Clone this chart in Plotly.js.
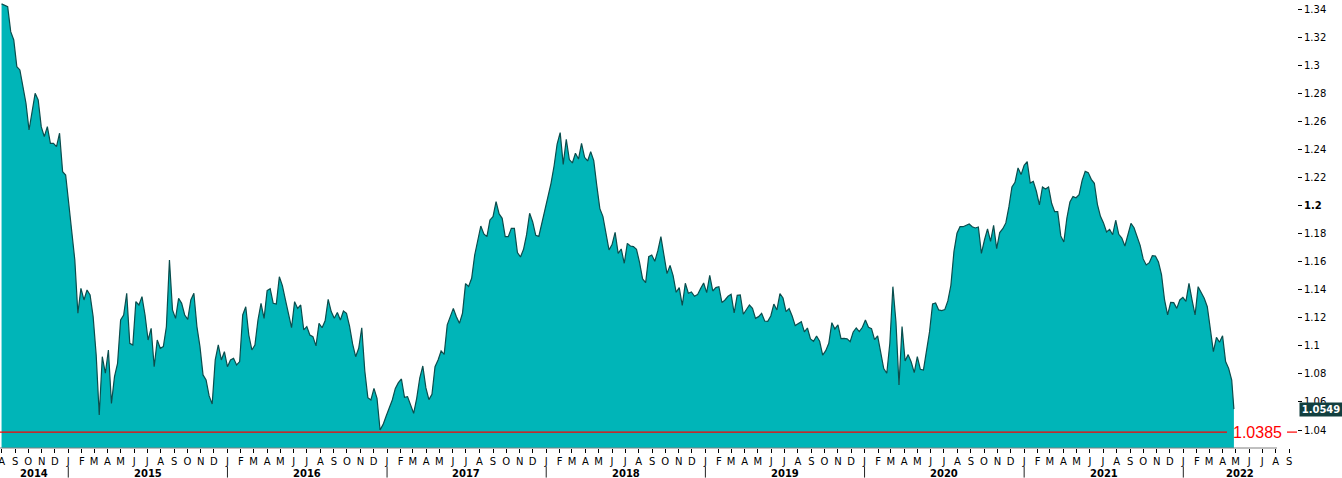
<!DOCTYPE html>
<html><head><meta charset="utf-8">
<script src="https://cdn.plot.ly/plotly-3.0.1.min.js"></script>
<style>html,body{margin:0;padding:0;background:#fff;}#chart{width:1342px;height:478px;}</style>
</head><body><div id="chart"></div>
<script>
// Weekly (Friday) EUR/USD closes, first Friday = 2014-08-01
const firstFriday = '2014-08-01';
const close2014 = [1.3441,1.3434,1.3422,1.3243,1.3184,1.2993,1.2970,1.2851,1.2732,1.2541,1.2684,1.2803,1.2756,1.2565,1.2494,1.2565,1.2446,1.2446,1.2422,1.2518,1.2244,1.2220];
const close2015 = [1.2018,1.1828,1.1613,1.1233,1.1411,1.1328,1.1399,1.1364,1.1209,1.0935,1.0507,1.0923,1.0805,1.0971,1.0590,1.0781,1.0876,1.1185,1.1221,1.1376,1.1019,1.1007,1.1316,1.1292,1.1352,1.1221,1.1042,1.1126,1.0852,1.1042,1.0983,1.0995,1.1138,1.1613,1.1257,1.1197,1.1340,1.1304,1.1221,1.1190,1.1328,1.1376,1.1138,1.0995,1.0793,1.0757,1.0643,1.0586,1.0900,1.1007,1.0900,1.0959];
const close2016 = [1.0852,1.0900,1.0912,1.0864,1.0888,1.1221,1.1280,1.1078,1.0971,1.1007,1.1185,1.1304,1.1197,1.1395,1.1409,1.1304,1.1299,1.1494,1.1430,1.1328,1.1221,1.1130,1.1316,1.1268,1.1292,1.1114,1.1138,1.1078,1.1066,1.1000,1.1161,1.1130,1.1180,1.1333,1.1245,1.1197,1.1238,1.1185,1.1249,1.1233,1.1142,1.1014,1.0923,1.0983,1.1130,1.0821,1.0631,1.0614,1.0697,1.0626,1.0400,1.0440,1.0500];
const close2017 = [1.0559,1.0614,1.0697,1.0738,1.0764,1.0633,1.0638,1.0576,1.0519,1.0626,1.0771,1.0857,1.0702,1.0617,1.0655,1.0852,1.0900,1.0964,1.0940,1.1150,1.1209,1.1268,1.1209,1.1161,1.1233,1.1445,1.1425,1.1483,1.1649,1.1763,1.1856,1.1799,1.1780,1.1899,1.1923,1.2030,1.1942,1.1911,1.1780,1.1780,1.1839,1.1839,1.1666,1.1635,1.1690,1.1794,1.1947,1.1885,1.1789,1.1782,1.1878,1.1992];
const close2018 = [1.2070,1.2161,1.2284,1.2441,1.2522,1.2296,1.2475,1.2330,1.2306,1.2375,1.2334,1.2446,1.2346,1.2320,1.2387,1.2323,1.2144,1.1980,1.1925,1.1809,1.1685,1.1723,1.1811,1.1661,1.1692,1.1590,1.1732,1.1713,1.1709,1.1690,1.1597,1.1478,1.1452,1.1637,1.1649,1.1604,1.1680,1.1780,1.1640,1.1516,1.1575,1.1502,1.1383,1.1416,1.1290,1.1447,1.1376,1.1385,1.1354,1.1366,1.1409,1.1449];
const close2019 = [1.1380,1.1504,1.1392,1.1416,1.1423,1.1309,1.1328,1.1354,1.1368,1.1235,1.1361,1.1364,1.1226,1.1261,1.1292,1.1268,1.1197,1.1209,1.1233,1.1178,1.1176,1.1214,1.1299,1.1257,1.1373,1.1342,1.1245,1.1266,1.1214,1.1145,1.1157,1.1173,1.1100,1.1128,1.1050,1.1033,1.1071,1.1033,1.0935,1.0966,1.1019,1.1166,1.1121,1.1150,1.1052,1.1054,1.1050,1.1031,1.1100,1.1128,1.1102,1.1133];
const close2020 = [1.1185,1.1133,1.1123,1.1045,1.1071,1.0947,1.0838,1.0805,1.1019,1.1423,1.1173,1.0721,1.1138,1.0893,1.0938,1.0885,1.0809,1.0923,1.0833,1.0828,1.0952,1.1100,1.1299,1.1307,1.1257,1.1252,1.1259,1.1321,1.1433,1.1673,1.1804,1.1851,1.1851,1.1861,1.1870,1.1851,1.1842,1.1849,1.1661,1.1756,1.1835,1.1747,1.1861,1.1694,1.1809,1.1837,1.1878,1.1992,1.2135,1.2168,1.2270,1.2223];
const close2021 = [1.2289,1.2315,1.2163,1.2175,1.2104,1.2006,1.2135,1.2120,1.2135,1.2018,1.1958,1.1958,1.1785,1.1742,1.1913,1.2027,1.2066,1.2058,1.2080,1.2182,1.2246,1.2237,1.2189,1.2161,1.2011,1.1925,1.1878,1.1813,1.1832,1.1794,1.1897,1.1797,1.1770,1.1713,1.1787,1.1875,1.1844,1.1778,1.1718,1.1621,1.1578,1.1594,1.1644,1.1642,1.1599,1.1509,1.1328,1.1221,1.1311,1.1309,1.1268,1.1328,1.1347];
const close2022 = [1.1318,1.1447,1.1328,1.1221,1.1423,1.1376,1.1340,1.1280,1.1114,1.0959,1.1061,1.1026,1.1073,1.0888,1.0840,1.0757];
const lastDate = '2022-04-27';
const lastClose = 1.0549;
const referenceLevel = 1.0385;

const yTickValues = [1.04,1.06,1.08,1.10,1.12,1.14,1.16,1.18,1.20,1.22,1.24,1.26,1.28,1.30,1.32,1.34];
const yTickLabels = ['1.04','1.06','1.08','1.1','1.12','1.14','1.16','1.18','<b>1.2</b>','1.22','1.24','1.26','1.28','1.3','1.32','1.34'];
const monthLetters = ['J','F','M','A','M','J','J','A','S','O','N','D'];
const yearLabels = ['2014','2015','2016','2017','2018','2019','2020','2021','2022'];
const yearLabelPos = ['2014-10-14','2015-07-02','2016-07-02','2017-07-02','2018-07-02','2019-07-02','2020-07-02','2021-07-02','2022-05-11'];

// build series
const closes = [].concat(close2014, close2015, close2016, close2017, close2018, close2019, close2020, close2021, close2022);
const t0 = Date.parse(firstFriday + 'T00:00:00Z');
const dates = closes.map((_, i) => new Date(t0 + i * 7 * 86400000).toISOString().slice(0, 10));
dates.push(lastDate);
const values = closes.concat([lastClose]);

// month ticks Aug 2014 .. Sep 2022
const monthVals = [], monthText = [];
{ let y = 2014, m = 7;
  while (y < 2022 || (y === 2022 && m <= 8)) {
    monthVals.push(y + '-' + String(m + 1).padStart(2, '0') + '-01');
    monthText.push(monthLetters[m]);
    m++; if (m === 12) { m = 0; y++; }
  } }

const FONT = 'DejaVu Sans, Verdana, sans-serif';
const shapes = [];
for (let y = 2015; y <= 2022; y++) {
  shapes.push({type:'line', xref:'x', yref:'paper', x0: y + '-01-01', x1: y + '-01-01', y0:-0.041, y1:-0.066, line:{color:'#222', width:1}});
}
shapes.push({type:'line', xref:'paper', yref:'paper', x0:0, x1:0.9846, y0:0, y1:0, line:{color:'#808080', width:1}});
shapes.push({type:'line', xref:'paper', yref:'y', x0:0, x1:0.946, y0:referenceLevel, y1:referenceLevel, line:{color:'#ff0000', width:1.2}});
shapes.push({type:'line', xref:'paper', yref:'y', x0:0.9923, x1:1.0, y0:referenceLevel, y1:referenceLevel, line:{color:'#ff0000', width:1.2}});

const annotations = yearLabels.map((t, i) => ({
  text:'<b>' + t + '</b>', x:yearLabelPos[i], xref:'x', y:-0.056, yref:'paper',
  xanchor:'center', yanchor:'middle', showarrow:false, font:{family:FONT, size:10, color:'#000'}
}));
annotations.push({text:String(referenceLevel), x:0.9692, xref:'paper', y:referenceLevel, yref:'y',
  xanchor:'center', yanchor:'middle', showarrow:false, font:{family:'Liberation Sans, Arial, sans-serif', size:16, color:'#ff0000'}});
annotations.push({text:'<b>' + lastClose.toFixed(4) + '</b>', x:1.0015, xref:'paper', y:lastClose, yref:'y',
  xanchor:'left', yanchor:'middle', showarrow:false, bgcolor:'#123f3f', borderpad:1, width:40, height:11,
  font:{family:FONT, size:10, color:'#ffffff'}});

const trace = {
  x: dates, y: values, type:'scatter', mode:'lines', fill:'tozeroy',
  fillcolor:'#00b5b8', line:{color:'#0a4d4d', width:1.2}, hoverinfo:'skip'
};

const layout = {
  width:1342, height:478,
  margin:{l:0, r:45, t:0, b:30, pad:0},
  paper_bgcolor:'#ffffff', plot_bgcolor:'#ffffff', showlegend:false,
  font:{family:FONT, size:10, color:'#000'},
  xaxis:{type:'date', range:['2014-07-28 10:00','2022-09-18 17:00'], tickmode:'array',
    tickvals:monthVals, ticktext:monthText, ticks:'outside', ticklen:4, tickwidth:1, tickcolor:'#000',
    tickangle:0, ticklabeloverflow:'allow', showgrid:false, zeroline:false, showline:false, automargin:false, fixedrange:true,
    tickfont:{family:FONT, size:10, color:'#000'}},
  yaxis:{side:'right', range:[1.02715, 1.3469], tickmode:'array', tickvals:yTickValues, ticktext:yTickLabels,
    ticks:'outside', ticklen:4, tickwidth:1, tickcolor:'#000', showgrid:false, zeroline:false, showline:false,
    ticklabeloverflow:'allow', automargin:false, fixedrange:true, tickfont:{family:FONT, size:10, color:'#000'}},
  shapes: shapes, annotations: annotations
};

Plotly.newPlot('chart', [trace], layout, {displayModeBar:false, staticPlot:true});
</script></body></html>
